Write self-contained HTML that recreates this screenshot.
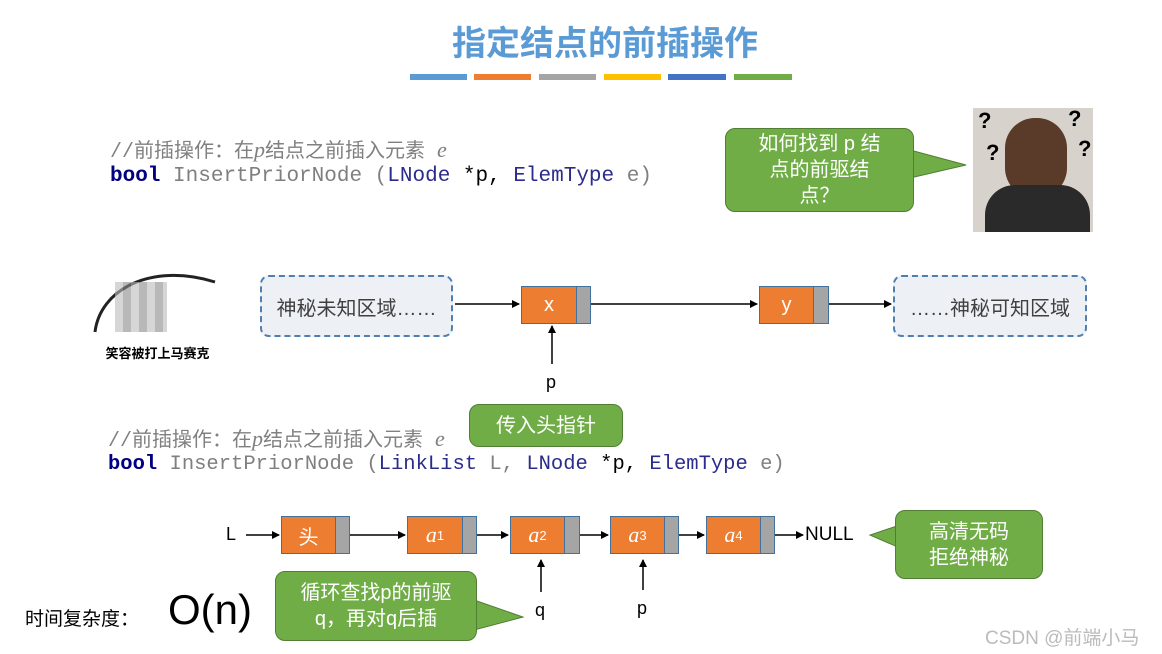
<!DOCTYPE html>
<html><head><meta charset="utf-8"><style>
body{margin:0;width:1162px;height:654px;background:#fff;position:relative;overflow:hidden;font-family:"Liberation Sans","Noto Sans CJK SC",sans-serif}
.a{position:absolute}
.code{font-family:"Liberation Mono","Noto Sans CJK SC",monospace;font-size:21px;white-space:nowrap}
.cm{color:#808080;font-size:20px}
.kw{color:#000080;font-weight:bold}
.ty{color:#2b2b8c}
.gray{color:#7f7f7f}
.dash{border:2px dashed #4f7fb0;background:#edf0f5;border-radius:9px;font-size:20px;color:#404040;display:flex;align-items:center;justify-content:center;box-sizing:border-box}
.or{background:#ed7d31;border:1px solid #41719c;box-sizing:border-box;color:#fff;font-size:20px;display:flex;align-items:center;justify-content:center}
.gr{background:#a5a5a5;border:1px solid #41719c;box-sizing:border-box}
.call{background:#70ad47;border:1px solid #507e32;border-radius:10px;color:#fff;font-size:20px;text-align:center;box-sizing:border-box;display:flex;align-items:center;justify-content:center;line-height:26px}
i{font-family:"Liberation Serif",serif;font-size:22px}
sub{font-size:13px}
</style></head><body>
<div class="a" style="left:0;width:1210px;top:16px;text-align:center;color:#5b9bd5;font-size:34px;font-weight:bold">指定结点的前插操作</div>
<div class="a" style="left:410px;top:74px;width:57px;height:6px;background:#5b9bd5"></div>
<div class="a" style="left:474px;top:74px;width:57px;height:6px;background:#ed7d31"></div>
<div class="a" style="left:539px;top:74px;width:57px;height:6px;background:#a5a5a5"></div>
<div class="a" style="left:604px;top:74px;width:57px;height:6px;background:#ffc000"></div>
<div class="a" style="left:668px;top:74px;width:58px;height:6px;background:#4472c4"></div>
<div class="a" style="left:734px;top:74px;width:58px;height:6px;background:#70ad47"></div>

<div class="a code cm" style="left:110px;top:134px">//前插操作：在<i>p</i>结点之前插入元素 <i>e</i></div>
<div class="a code" style="left:110px;top:165px"><span class="kw">bool</span> <span class="gray">InsertPriorNode (</span><span class="ty">LNode</span> *p, <span class="ty">ElemType</span> <span class="gray">e)</span></div>

<div class="a code cm" style="left:108px;top:423px">//前插操作：在<i>p</i>结点之前插入元素 <i>e</i></div>
<div class="a code" style="left:108px;top:453px;font-size:20.5px"><span class="kw">bool</span> <span class="gray">InsertPriorNode (</span><span class="ty">LinkList</span> <span class="gray">L,</span> <span class="ty">LNode</span> *p, <span class="ty">ElemType</span> <span class="gray">e)</span></div>

<svg class="a" style="left:0;top:0" width="1162" height="654">
<defs><marker id="m" markerWidth="8" markerHeight="8" refX="7" refY="4" orient="auto" markerUnits="userSpaceOnUse"><path d="M0,0L8,4L0,8z" fill="#000"/></marker></defs>
<g stroke="#000" stroke-width="1.5" marker-end="url(#m)">
<line x1="455" y1="304" x2="519" y2="304"/>
<line x1="591" y1="304" x2="757" y2="304"/>
<line x1="829" y1="304" x2="891" y2="304"/>
<line x1="552" y1="364" x2="552" y2="326"/>
<line x1="246" y1="535" x2="279" y2="535"/>
<line x1="350" y1="535" x2="405" y2="535"/>
<line x1="477" y1="535" x2="508" y2="535"/>
<line x1="580" y1="535" x2="608" y2="535"/>
<line x1="679" y1="535" x2="704" y2="535"/>
<line x1="775" y1="535" x2="803" y2="535"/>
<line x1="541" y1="592" x2="541" y2="560"/>
<line x1="643" y1="590" x2="643" y2="560"/>
</g>
<path d="M910,150 L966,165 L910,178Z" fill="#70ad47" stroke="#507e32"/>
<path d="M474,600 L523,617 L474,630Z" fill="#70ad47" stroke="#507e32"/>
<path d="M900,525 L870,535 L900,548Z" fill="#70ad47" stroke="#507e32"/>
<path d="M95,332 C100,290 150,262 215,282" stroke="#222" stroke-width="3" fill="none"/>
</svg>

<div class="a call" style="left:725px;top:128px;width:189px;height:84px">如何找到 p 结<br>点的前驱结<br>点？</div>
<div class="a" style="left:973px;top:108px;width:120px;height:124px;background:#d8d2cc"></div>
<div class="a" style="left:1005px;top:118px;width:62px;height:80px;background:#5a3a28;border-radius:30px"></div>
<div class="a" style="left:985px;top:185px;width:105px;height:47px;background:#2a2a2a;border-radius:30px 30px 0 0"></div>
<div class="a" style="left:978px;top:108px;font-size:22px;font-weight:bold">?</div>
<div class="a" style="left:986px;top:140px;font-size:22px;font-weight:bold">?</div>
<div class="a" style="left:1068px;top:106px;font-size:22px;font-weight:bold">?</div>
<div class="a" style="left:1078px;top:136px;font-size:22px;font-weight:bold">?</div>

<div class="a" style="left:115px;top:282px;width:52px;height:50px;background:repeating-linear-gradient(90deg,#bbb 0 8px,#888 8px 16px);opacity:.6"></div>
<div class="a" style="left:85px;top:343px;width:145px;text-align:center;font-size:13px;font-weight:bold">笑容被打上马赛克</div>

<div class="a dash" style="left:260px;top:275px;width:193px;height:62px">神秘未知区域……</div>
<div class="a dash" style="left:893px;top:275px;width:194px;height:62px">……神秘可知区域</div>
<div class="a or" style="left:521px;top:286px;width:56px;height:38px">x</div><div class="a gr" style="left:576px;top:286px;width:15px;height:38px"></div>
<div class="a or" style="left:759px;top:286px;width:55px;height:38px">y</div><div class="a gr" style="left:813px;top:286px;width:16px;height:38px"></div>
<div class="a" style="left:546px;top:372px;font-size:18px">p</div>

<div class="a call" style="left:469px;top:404px;width:154px;height:43px">传入头指针</div>

<div class="a" style="left:226px;top:524px;font-size:18px">L</div>
<div class="a or" style="left:281px;top:516px;width:55px;height:38px">头</div><div class="a gr" style="left:335px;top:516px;width:15px;height:38px"></div>
<div class="a or" style="left:407px;top:516px;width:56px;height:38px"><i>a</i><sub>1</sub></div><div class="a gr" style="left:462px;top:516px;width:15px;height:38px"></div>
<div class="a or" style="left:510px;top:516px;width:55px;height:38px"><i>a</i><sub>2</sub></div><div class="a gr" style="left:564px;top:516px;width:16px;height:38px"></div>
<div class="a or" style="left:610px;top:516px;width:55px;height:38px"><i>a</i><sub>3</sub></div><div class="a gr" style="left:664px;top:516px;width:15px;height:38px"></div>
<div class="a or" style="left:706px;top:516px;width:55px;height:38px"><i>a</i><sub>4</sub></div><div class="a gr" style="left:760px;top:516px;width:15px;height:38px"></div>
<div class="a" style="left:805px;top:524px;font-size:19px">NULL</div>
<div class="a" style="left:535px;top:600px;font-size:18px">q</div>
<div class="a" style="left:637px;top:598px;font-size:18px">p</div>

<div class="a call" style="left:895px;top:510px;width:148px;height:69px">高清无码<br>拒绝神秘</div>
<div class="a call" style="left:275px;top:571px;width:202px;height:70px">循环查找p的前驱<br>q，再对q后插</div>

<div class="a" style="left:25px;top:604px;font-size:19px">时间复杂度：</div>
<div class="a" style="left:168px;top:586px;font-size:42px">O(n)</div>
<div class="a" style="left:985px;top:623px;font-size:19px;color:#bbb">CSDN @前端小马</div>
</body></html>
